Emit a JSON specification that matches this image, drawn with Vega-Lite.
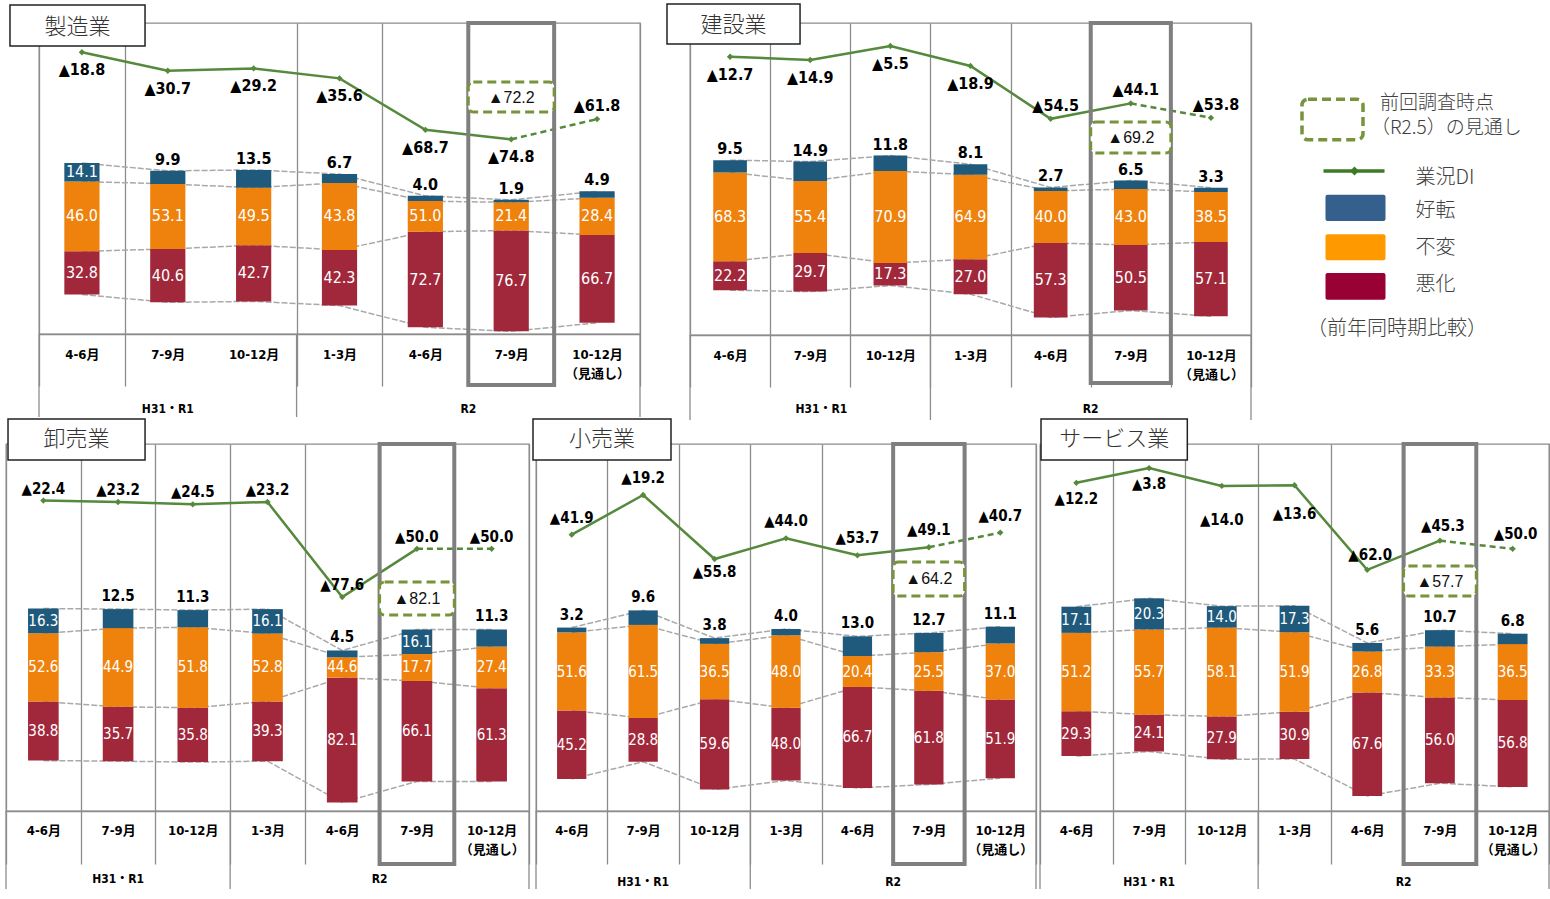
{
"$schema": "https://vega.github.io/schema/vega-lite/v6.json",
"background": "white",
"padding": {"left": 4, "top": 2, "right": 0, "bottom": 0},
"config": {
  "view": {"stroke": "#8c8c8c", "strokeWidth": 1.3},
  "axisQuantitative": {"disable": true}
},
"datasets": {"d": [
{"panel":"製造業","period":"p1","good":14.1,"same":53.1,"bad":32.8,"same_text":"46.0","di":-18.8},
{"panel":"製造業","period":"p2","good":9.9,"same":49.5,"bad":40.6,"same_text":"53.1","di":-30.7},
{"panel":"製造業","period":"p3","good":13.5,"same":43.8,"bad":42.7,"same_text":"49.5","di":-29.2},
{"panel":"製造業","period":"p4","good":6.7,"same":51.0,"bad":42.3,"same_text":"43.8","di":-35.6},
{"panel":"製造業","period":"p5","good":4.0,"same":23.3,"bad":72.7,"same_text":"51.0","di":-68.7},
{"panel":"製造業","period":"p6","good":1.9,"same":21.4,"bad":76.7,"di":-74.8,"prev":-72.2},
{"panel":"製造業","period":"p7","good":4.9,"same":28.4,"bad":66.7,"di":-61.8},
{"panel":"建設業","period":"p1","good":9.5,"same":68.3,"bad":22.2,"di":-12.7},
{"panel":"建設業","period":"p2","good":14.9,"same":55.4,"bad":29.7,"di":-14.9},
{"panel":"建設業","period":"p3","good":11.8,"same":70.9,"bad":17.3,"di":-5.5},
{"panel":"建設業","period":"p4","good":8.1,"same":64.9,"bad":27.0,"di":-18.9},
{"panel":"建設業","period":"p5","good":2.7,"same":40.0,"bad":57.3,"di":-54.5},
{"panel":"建設業","period":"p6","good":6.5,"same":43.0,"bad":50.5,"di":-44.1,"prev":-69.2},
{"panel":"建設業","period":"p7","good":3.3,"same":38.5,"bad":57.1,"di":-53.8},
{"panel":"卸売業","period":"p1","good":16.3,"same":44.9,"bad":38.8,"same_text":"52.6","di":-22.4},
{"panel":"卸売業","period":"p2","good":12.5,"same":51.8,"bad":35.7,"same_text":"44.9","di":-23.2},
{"panel":"卸売業","period":"p3","good":11.3,"same":52.9,"bad":35.8,"same_text":"51.8","di":-24.5},
{"panel":"卸売業","period":"p4","good":16.1,"same":44.6,"bad":39.3,"same_text":"52.8","di":-23.2},
{"panel":"卸売業","period":"p5","good":4.5,"same":13.4,"bad":82.1,"same_text":"44.6","di":-77.6},
{"panel":"卸売業","period":"p6","good":16.1,"same":17.7,"bad":66.1,"di":-50.0,"prev":-82.1},
{"panel":"卸売業","period":"p7","good":11.3,"same":27.4,"bad":61.3,"di":-50.0},
{"panel":"小売業","period":"p1","good":3.2,"same":51.6,"bad":45.2,"di":-41.9},
{"panel":"小売業","period":"p2","good":9.6,"same":61.5,"bad":28.8,"di":-19.2},
{"panel":"小売業","period":"p3","good":3.8,"same":36.5,"bad":59.6,"di":-55.8},
{"panel":"小売業","period":"p4","good":4.0,"same":48.0,"bad":48.0,"di":-44.0},
{"panel":"小売業","period":"p5","good":13.0,"same":20.4,"bad":66.7,"di":-53.7},
{"panel":"小売業","period":"p6","good":12.7,"same":25.5,"bad":61.8,"di":-49.1,"prev":-64.2},
{"panel":"小売業","period":"p7","good":11.1,"same":37.0,"bad":51.9,"di":-40.7},
{"panel":"サービス業","period":"p1","good":17.1,"same":51.2,"bad":29.3,"di":-12.2},
{"panel":"サービス業","period":"p2","good":20.3,"same":55.7,"bad":24.1,"di":-3.8},
{"panel":"サービス業","period":"p3","good":14.0,"same":58.1,"bad":27.9,"di":-14.0},
{"panel":"サービス業","period":"p4","good":17.3,"same":51.9,"bad":30.9,"di":-13.6},
{"panel":"サービス業","period":"p5","good":5.6,"same":26.8,"bad":67.6,"di":-62.0},
{"panel":"サービス業","period":"p6","good":10.7,"same":33.3,"bad":56.0,"di":-45.3,"prev":-57.7},
{"panel":"サービス業","period":"p7","good":6.8,"same":36.5,"bad":56.8,"di":-50.0}
]},
"spacing": -5,
"vconcat": [
{"spacing": 23, "hconcat": [
{"spacing": 0, "hconcat": [
{"width": 2, "height": 10, "view": {"stroke": null}, "data": {"values": [{}]}, "mark": {"type": "text"}, "encoding": {"text": {"value": ""}}},
{
"width": 601, "height": 311,
"data": {"name": "d"},
"transform": [
  {"filter": "datum.panel == '製造業'"},
  {"calculate": "datum.same / 2", "as": "b1"},
  {"calculate": "-datum.same / 2", "as": "b2"},
  {"calculate": "datum.same / 2 + datum.good", "as": "t"},
  {"calculate": "-datum.same / 2 - datum.bad", "as": "bt"},
  {"calculate": "datum.same / 2 + datum.good / 2", "as": "mg"},
  {"calculate": "-datum.same / 2 - datum.bad / 2", "as": "mb"},
  {"calculate": "isValid(datum.same_text) ? datum.same_text : format(datum.same, '.1f')", "as": "same_lbl"},
  {"calculate": "'▲' + format(-datum.di, '.1f')", "as": "di_lbl"}
],
"resolve": {"scale": {"y": "independent"}},
"layer": [
 {"layer": [
  {"transform": [{"fold": ["t", "b1", "b2", "bt"], "as": ["edge", "v"]}],
   "mark": {"type": "line", "stroke": "#a9a9a9", "strokeWidth": 1.5, "strokeDash": [6, 2]},
   "encoding": {
    "x": {"field": "period", "type": "nominal", "scale": {"type": "band", "domain": ["p1","p2","p3","p4","p5","p6","p7"], "paddingInner": 0, "paddingOuter": 0},
      "axis": {"orient": "bottom", "title": null, "domain": true, "domainColor": "#8c8c8c", "domainWidth": 1.3, "grid": true, "gridColor": "#8c8c8c", "gridWidth": 1.3, "tickBand": "extent", "ticks": true, "tickSize": 52, "tickColor": "#8c8c8c", "tickWidth": 1.3, "labelAngle": 0, "labelPadding": -38, "labelBaseline": "top", "labelFont": "Liberation Sans Narrow, Arial Narrow, DejaVu Sans Condensed, Noto Sans CJK JP, sans-serif", "labelFontSize": 13, "labelFontWeight": "bold", "labelColor": "#000000", "labelLineHeight": 19, "labelOverlap": false, "labelFlush": false, "labelBound": false,
        "gridOpacity": {"condition": {"test": "datum.value == 'p2'", "value": 0}, "value": 1},
        "tickOpacity": {"condition": {"test": "datum.value == 'p2'", "value": 0}, "value": 1},
        "labelExpr": "datum.value == 'p7' ? ['10-12月', '（見通し）'] : ['4-6月', '7-9月', '10-12月', '1-3月', '4-6月', '7-9月'][indexof(['p1', 'p2', 'p3', 'p4', 'p5', 'p6'], datum.value)]"}},
    "y": {"field": "v", "type": "quantitative", "scale": {"domain": [-89.4, 147.1], "nice": false, "zero": false}},
    "detail": {"field": "edge", "type": "nominal"}}},
  {"mark": {"type": "bar", "fill": "#a1283b", "width": {"band": 0.41}}, "encoding": {"x": {"field": "period", "type": "nominal"}, "y": {"field": "bt", "type": "quantitative"}, "y2": {"field": "b2"}}},
  {"mark": {"type": "bar", "fill": "#ef820d", "width": {"band": 0.41}}, "encoding": {"x": {"field": "period", "type": "nominal"}, "y": {"field": "b2", "type": "quantitative"}, "y2": {"field": "b1"}}},
  {"mark": {"type": "bar", "fill": "#1f5a7d", "width": {"band": 0.41}}, "encoding": {"x": {"field": "period", "type": "nominal"}, "y": {"field": "b1", "type": "quantitative"}, "y2": {"field": "t"}}},
  {"mark": {"type": "text", "font": "Liberation Sans Narrow, Arial Narrow, DejaVu Sans Condensed, sans-serif", "fontSize": 16, "color": "#ffffff"}, "encoding": {"x": {"field": "period", "type": "nominal"}, "y": {"field": "mb", "type": "quantitative"}, "text": {"field": "bad", "type": "quantitative", "format": ".1f"}}},
  {"mark": {"type": "text", "font": "Liberation Sans Narrow, Arial Narrow, DejaVu Sans Condensed, sans-serif", "fontSize": 16, "color": "#ffffff"}, "encoding": {"x": {"field": "period", "type": "nominal"}, "y": {"datum": 0}, "text": {"field": "same_lbl"}}},
  {"transform": [{"filter": "datum.good >= 14"}], "mark": {"type": "text", "font": "Liberation Sans Narrow, Arial Narrow, DejaVu Sans Condensed, sans-serif", "fontSize": 16, "color": "#ffffff"}, "encoding": {"x": {"field": "period", "type": "nominal"}, "y": {"field": "mg", "type": "quantitative"}, "text": {"field": "good", "type": "quantitative", "format": ".1f"}}},
  {"transform": [{"filter": "datum.good < 14"}], "mark": {"type": "text", "font": "Liberation Sans Narrow, Arial Narrow, DejaVu Sans Condensed, sans-serif", "fontSize": 16, "fontWeight": "bold", "color": "#000000", "baseline": "bottom", "dy": -3}, "encoding": {"x": {"field": "period", "type": "nominal"}, "y": {"field": "t", "type": "quantitative"}, "text": {"field": "good", "type": "quantitative", "format": ".1f"}}}
 ]},
 {"layer": [
  {"transform": [{"filter": "datum.period != 'p7'"}], "mark": {"type": "line", "stroke": "#55893b", "strokeWidth": 2.5}, "encoding": {"x": {"field": "period", "type": "nominal"}, "y": {"field": "di", "type": "quantitative", "scale": {"domain": [-200, 0], "nice": false, "zero": false}}}},
  {"transform": [{"filter": "datum.period == 'p6' || datum.period == 'p7'"}], "mark": {"type": "line", "stroke": "#55893b", "strokeWidth": 2.5, "strokeDash": [6, 4]}, "encoding": {"x": {"field": "period", "type": "nominal"}, "y": {"field": "di", "type": "quantitative"}}},
  {"mark": {"type": "point", "shape": "diamond", "filled": true, "color": "#55893b", "size": 40, "opacity": 1}, "encoding": {"x": {"field": "period", "type": "nominal"}, "y": {"field": "di", "type": "quantitative"}}},
  {"transform": [{"filter": "datum.period != 'p7'"}], "mark": {"type": "text", "font": "Liberation Sans Narrow, Arial Narrow, DejaVu Sans Condensed, sans-serif", "fontSize": 16, "fontWeight": "bold", "color": "#000000", "baseline": "top", "dy": 10}, "encoding": {"x": {"field": "period", "type": "nominal"}, "y": {"field": "di", "type": "quantitative"}, "text": {"field": "di_lbl"}}},
  {"transform": [{"filter": "datum.period == 'p7'"}], "mark": {"type": "text", "font": "Liberation Sans Narrow, Arial Narrow, DejaVu Sans Condensed, sans-serif", "fontSize": 16, "fontWeight": "bold", "color": "#000000", "baseline": "bottom", "dy": -5}, "encoding": {"x": {"field": "period", "type": "nominal"}, "y": {"field": "di", "type": "quantitative"}, "text": {"field": "di_lbl"}}},
  {"transform": [{"filter": "datum.period == 'p6'"}], "mark": {"type": "rect", "fill": "transparent", "stroke": "#7f7f7f", "strokeWidth": 4}, "encoding": {"x": {"field": "period", "type": "nominal"}, "y": {"datum": 0}, "y2": {"datum": -232.8}}},
  {"transform": [{"filter": "datum.period == 'p6'"}], "mark": {"type": "rect", "fill": "#ffffff", "stroke": "#77933c", "strokeWidth": 3, "strokeDash": [9, 5], "cornerRadius": 5}, "encoding": {"x": {"field": "period", "type": "nominal"}, "y": {"datum": -38}, "y2": {"datum": -57.2}}},
  {"transform": [{"filter": "datum.period == 'p6'"}, {"calculate": "'▲' + format(-datum.prev, '.1f')", "as": "prev_lbl"}], "mark": {"type": "text", "font": "Liberation Sans, Noto Sans CJK JP, sans-serif", "fontSize": 16, "color": "#111111"}, "encoding": {"x": {"field": "period", "type": "nominal"}, "y": {"datum": -48.2}, "text": {"field": "prev_lbl"}}},
  {"transform": [{"filter": "datum.period == 'p1' || datum.period == 'p4'"}], "mark": {"type": "rule", "stroke": "#8c8c8c", "strokeWidth": 1.3}, "encoding": {"x": {"field": "period", "type": "nominal", "bandPosition": 0}, "y": {"datum": -200}, "y2": {"datum": -253.4}}},
  {"transform": [{"filter": "datum.period == 'p7'"}], "mark": {"type": "rule", "stroke": "#8c8c8c", "strokeWidth": 1.3}, "encoding": {"x": {"field": "period", "type": "nominal", "bandPosition": 1}, "y": {"datum": -200}, "y2": {"datum": -253.4}}},
  {"transform": [{"filter": "datum.period == 'p1'"}], "mark": {"type": "text", "font": "Liberation Sans Narrow, Arial Narrow, DejaVu Sans Condensed, Noto Sans CJK JP, sans-serif", "fontSize": 12, "fontWeight": "bold", "color": "#000000"}, "encoding": {"x": {"datum": "p2", "bandPosition": 0.5}, "y": {"datum": -248.2}, "text": {"value": "H31・R1"}}},
  {"transform": [{"filter": "datum.period == 'p1'"}], "mark": {"type": "text", "font": "Liberation Sans Narrow, Arial Narrow, DejaVu Sans Condensed, Noto Sans CJK JP, sans-serif", "fontSize": 12, "fontWeight": "bold", "color": "#000000"}, "encoding": {"x": {"datum": "p6", "bandPosition": 0}, "y": {"datum": -248.2}, "text": {"value": "R2"}}},
  {"transform": [{"filter": "datum.period == 'p1'"}], "mark": {"type": "rect", "fill": "#ffffff", "stroke": "#222222", "strokeWidth": 1.5}, "encoding": {"x": {"datum": "p1", "bandPosition": -0.338}, "x2": {"datum": "p2", "bandPosition": 0.235}, "y": {"datum": 11.6}, "y2": {"datum": -14.8}}},
  {"transform": [{"filter": "datum.period == 'p1'"}], "mark": {"type": "text", "font": "Noto Sans CJK JP", "fontSize": 22, "fontWeight": 300, "color": "#333333"}, "encoding": {"x": {"datum": "p1", "bandPosition": 0.448}, "y": {"datum": -2.6}, "text": {"value": "製造業"}}}
 ]}
]
}
]},
{
"width": 561, "height": 312,
"data": {"name": "d"},
"transform": [
  {"filter": "datum.panel == '建設業'"},
  {"calculate": "datum.same / 2", "as": "b1"},
  {"calculate": "-datum.same / 2", "as": "b2"},
  {"calculate": "datum.same / 2 + datum.good", "as": "t"},
  {"calculate": "-datum.same / 2 - datum.bad", "as": "bt"},
  {"calculate": "datum.same / 2 + datum.good / 2", "as": "mg"},
  {"calculate": "-datum.same / 2 - datum.bad / 2", "as": "mb"},
  {"calculate": "isValid(datum.same_text) ? datum.same_text : format(datum.same, '.1f')", "as": "same_lbl"},
  {"calculate": "'▲' + format(-datum.di, '.1f')", "as": "di_lbl"}
],
"resolve": {"scale": {"y": "independent"}},
"layer": [
 {"layer": [
  {"transform": [{"fold": ["t", "b1", "b2", "bt"], "as": ["edge", "v"]}],
   "mark": {"type": "line", "stroke": "#a9a9a9", "strokeWidth": 1.5, "strokeDash": [6, 2]},
   "encoding": {
    "x": {"field": "period", "type": "nominal", "scale": {"type": "band", "domain": ["p1","p2","p3","p4","p5","p6","p7"], "paddingInner": 0, "paddingOuter": 0},
      "axis": {"orient": "bottom", "title": null, "domain": true, "domainColor": "#8c8c8c", "domainWidth": 1.3, "grid": true, "gridColor": "#8c8c8c", "gridWidth": 1.3, "tickBand": "extent", "ticks": true, "tickSize": 52, "tickColor": "#8c8c8c", "tickWidth": 1.3, "labelAngle": 0, "labelPadding": -38, "labelBaseline": "top", "labelFont": "Liberation Sans Narrow, Arial Narrow, DejaVu Sans Condensed, Noto Sans CJK JP, sans-serif", "labelFontSize": 13, "labelFontWeight": "bold", "labelColor": "#000000", "labelLineHeight": 19, "labelOverlap": false, "labelFlush": false, "labelBound": false,
        "labelExpr": "datum.value == 'p7' ? ['10-12月', '（見通し）'] : ['4-6月', '7-9月', '10-12月', '1-3月', '4-6月', '7-9月'][indexof(['p1', 'p2', 'p3', 'p4', 'p5', 'p6'], datum.value)]"}},
    "y": {"field": "v", "type": "quantitative", "scale": {"domain": [-90.8, 149.2], "nice": false, "zero": false}},
    "detail": {"field": "edge", "type": "nominal"}}},
  {"mark": {"type": "bar", "fill": "#a1283b", "width": {"band": 0.42}}, "encoding": {"x": {"field": "period", "type": "nominal"}, "y": {"field": "bt", "type": "quantitative"}, "y2": {"field": "b2"}}},
  {"mark": {"type": "bar", "fill": "#ef820d", "width": {"band": 0.42}}, "encoding": {"x": {"field": "period", "type": "nominal"}, "y": {"field": "b2", "type": "quantitative"}, "y2": {"field": "b1"}}},
  {"mark": {"type": "bar", "fill": "#1f5a7d", "width": {"band": 0.42}}, "encoding": {"x": {"field": "period", "type": "nominal"}, "y": {"field": "b1", "type": "quantitative"}, "y2": {"field": "t"}}},
  {"mark": {"type": "text", "font": "Liberation Sans Narrow, Arial Narrow, DejaVu Sans Condensed, sans-serif", "fontSize": 16, "color": "#ffffff"}, "encoding": {"x": {"field": "period", "type": "nominal"}, "y": {"field": "mb", "type": "quantitative"}, "text": {"field": "bad", "type": "quantitative", "format": ".1f"}}},
  {"mark": {"type": "text", "font": "Liberation Sans Narrow, Arial Narrow, DejaVu Sans Condensed, sans-serif", "fontSize": 16, "color": "#ffffff"}, "encoding": {"x": {"field": "period", "type": "nominal"}, "y": {"datum": 0}, "text": {"field": "same_lbl"}}},
  {"transform": [{"filter": "datum.good >= 15"}], "mark": {"type": "text", "font": "Liberation Sans Narrow, Arial Narrow, DejaVu Sans Condensed, sans-serif", "fontSize": 16, "color": "#ffffff"}, "encoding": {"x": {"field": "period", "type": "nominal"}, "y": {"field": "mg", "type": "quantitative"}, "text": {"field": "good", "type": "quantitative", "format": ".1f"}}},
  {"transform": [{"filter": "datum.good < 15"}], "mark": {"type": "text", "font": "Liberation Sans Narrow, Arial Narrow, DejaVu Sans Condensed, sans-serif", "fontSize": 16, "fontWeight": "bold", "color": "#000000", "baseline": "bottom", "dy": -3}, "encoding": {"x": {"field": "period", "type": "nominal"}, "y": {"field": "t", "type": "quantitative"}, "text": {"field": "good", "type": "quantitative", "format": ".1f"}}}
 ]},
 {"layer": [
  {"transform": [{"filter": "datum.period != 'p7'"}], "mark": {"type": "line", "stroke": "#55893b", "strokeWidth": 2.5}, "encoding": {"x": {"field": "period", "type": "nominal"}, "y": {"field": "di", "type": "quantitative", "scale": {"domain": [-200, 10], "nice": false, "zero": false}}}},
  {"transform": [{"filter": "datum.period == 'p6' || datum.period == 'p7'"}], "mark": {"type": "line", "stroke": "#55893b", "strokeWidth": 2.5, "strokeDash": [6, 4]}, "encoding": {"x": {"field": "period", "type": "nominal"}, "y": {"field": "di", "type": "quantitative"}}},
  {"mark": {"type": "point", "shape": "diamond", "filled": true, "color": "#55893b", "size": 40, "opacity": 1}, "encoding": {"x": {"field": "period", "type": "nominal"}, "y": {"field": "di", "type": "quantitative"}}},
  {"transform": [{"filter": "indexof(['p1','p2','p3','p4'], datum.period) >= 0"}], "mark": {"type": "text", "font": "Liberation Sans Narrow, Arial Narrow, DejaVu Sans Condensed, sans-serif", "fontSize": 16, "fontWeight": "bold", "color": "#000000", "baseline": "top", "dy": 10}, "encoding": {"x": {"field": "period", "type": "nominal"}, "y": {"field": "di", "type": "quantitative"}, "text": {"field": "di_lbl"}}},
  {"transform": [{"filter": "indexof(['p1','p2','p3','p4'], datum.period) < 0"}], "mark": {"type": "text", "font": "Liberation Sans Narrow, Arial Narrow, DejaVu Sans Condensed, sans-serif", "fontSize": 16, "fontWeight": "bold", "color": "#000000", "baseline": "bottom", "dy": -5, "dx": 5}, "encoding": {"x": {"field": "period", "type": "nominal"}, "y": {"field": "di", "type": "quantitative"}, "text": {"field": "di_lbl"}}},
  {"transform": [{"filter": "datum.period == 'p6'"}], "mark": {"type": "rect", "fill": "transparent", "stroke": "#7f7f7f", "strokeWidth": 4}, "encoding": {"x": {"field": "period", "type": "nominal"}, "y": {"datum": 10}, "y2": {"datum": -232.3}}},
  {"transform": [{"filter": "datum.period == 'p6'"}], "mark": {"type": "rect", "fill": "#ffffff", "stroke": "#77933c", "strokeWidth": 3, "strokeDash": [9, 5], "cornerRadius": 5}, "encoding": {"x": {"field": "period", "type": "nominal"}, "y": {"datum": -56.6}, "y2": {"datum": -77.5}}},
  {"transform": [{"filter": "datum.period == 'p6'"}, {"calculate": "'▲' + format(-datum.prev, '.1f')", "as": "prev_lbl"}], "mark": {"type": "text", "font": "Liberation Sans, Noto Sans CJK JP, sans-serif", "fontSize": 16, "color": "#111111"}, "encoding": {"x": {"field": "period", "type": "nominal"}, "y": {"datum": -67.4}, "text": {"field": "prev_lbl"}}},
  {"transform": [{"filter": "datum.period == 'p1' || datum.period == 'p4'"}], "mark": {"type": "rule", "stroke": "#8c8c8c", "strokeWidth": 1.3}, "encoding": {"x": {"field": "period", "type": "nominal", "bandPosition": 0}, "y": {"datum": -200}, "y2": {"datum": -257.2}}},
  {"transform": [{"filter": "datum.period == 'p7'"}], "mark": {"type": "rule", "stroke": "#8c8c8c", "strokeWidth": 1.3}, "encoding": {"x": {"field": "period", "type": "nominal", "bandPosition": 1}, "y": {"datum": -200}, "y2": {"datum": -257.2}}},
  {"transform": [{"filter": "datum.period == 'p1'"}], "mark": {"type": "text", "font": "Liberation Sans Narrow, Arial Narrow, DejaVu Sans Condensed, Noto Sans CJK JP, sans-serif", "fontSize": 12, "fontWeight": "bold", "color": "#000000"}, "encoding": {"x": {"datum": "p2", "bandPosition": 0.64}, "y": {"datum": -249.8}, "text": {"value": "H31・R1"}}},
  {"transform": [{"filter": "datum.period == 'p1'"}], "mark": {"type": "text", "font": "Liberation Sans Narrow, Arial Narrow, DejaVu Sans Condensed, Noto Sans CJK JP, sans-serif", "fontSize": 12, "fontWeight": "bold", "color": "#000000"}, "encoding": {"x": {"datum": "p6", "bandPosition": 0}, "y": {"datum": -249.8}, "text": {"value": "R2"}}},
  {"transform": [{"filter": "datum.period == 'p1'"}], "mark": {"type": "rect", "fill": "#ffffff", "stroke": "#222222", "strokeWidth": 1.5}, "encoding": {"x": {"datum": "p1", "bandPosition": -0.287}, "x2": {"datum": "p2", "bandPosition": 0.373}, "y": {"datum": 22.8}, "y2": {"datum": -4.1}}},
  {"transform": [{"filter": "datum.period == 'p1'"}], "mark": {"type": "text", "font": "Noto Sans CJK JP", "fontSize": 22, "fontWeight": 300, "color": "#333333"}, "encoding": {"x": {"datum": "p1", "bandPosition": 0.543}, "y": {"datum": 8.65}, "text": {"value": "建設業"}}}
 ]}
]
},
{
"width": 250, "height": 330,
"view": {"stroke": null},
"data": {"values": [{}]},
"layer": [
  {"mark": {"type": "rect", "fill": "transparent", "stroke": "#77933c", "strokeWidth": 3.5, "strokeDash": [9, 5], "cornerRadius": 6}, "encoding": {"x": {"datum": 26, "scale": {"domain": [0, 250], "nice": false, "zero": false}}, "x2": {"datum": 87}, "y": {"datum": 76.3, "scale": {"domain": [0, 330], "reverse": true, "nice": false, "zero": false}}, "y2": {"datum": 116.8}}},
  {"mark": {"type": "text", "font": "Noto Sans CJK JP", "fontSize": 19, "fontWeight": 300, "color": "#404040", "align": "left", "baseline": "middle"}, "encoding": {"x": {"datum": 104}, "y": {"datum": 79.5}, "text": {"value": "前回調査時点"}}},
  {"mark": {"type": "text", "font": "Noto Sans CJK JP", "fontSize": 19, "fontWeight": 300, "color": "#404040", "align": "left", "baseline": "middle"}, "encoding": {"x": {"datum": 95}, "y": {"datum": 105}, "text": {"value": "（R2.5）の見通し"}}},
  {"mark": {"type": "rule", "stroke": "#3d7a24", "strokeWidth": 3.5}, "encoding": {"x": {"datum": 47.5}, "x2": {"datum": 108.5}, "y": {"datum": 148}}},
  {"mark": {"type": "point", "shape": "diamond", "filled": true, "color": "#3d7a24", "size": 80, "opacity": 1}, "encoding": {"x": {"datum": 78.5}, "y": {"datum": 148}}},
  {"mark": {"type": "text", "font": "Noto Sans CJK JP", "fontSize": 20, "fontWeight": 300, "color": "#404040", "align": "left", "baseline": "middle"}, "encoding": {"x": {"datum": 139.5}, "y": {"datum": 155}, "text": {"value": "業況DI"}}},
  {"mark": {"type": "rect", "fill": "#355f8d", "cornerRadius": 2}, "encoding": {"x": {"datum": 49.5}, "x2": {"datum": 109.5}, "y": {"datum": 171.7}, "y2": {"datum": 198}}},
  {"mark": {"type": "rect", "fill": "#ff9900", "cornerRadius": 2}, "encoding": {"x": {"datum": 49.5}, "x2": {"datum": 109.5}, "y": {"datum": 211.3}, "y2": {"datum": 237.3}}},
  {"mark": {"type": "rect", "fill": "#990033", "cornerRadius": 2}, "encoding": {"x": {"datum": 49.5}, "x2": {"datum": 109.5}, "y": {"datum": 250}, "y2": {"datum": 276.7}}},
  {"mark": {"type": "text", "font": "Noto Sans CJK JP", "fontSize": 20, "fontWeight": 300, "color": "#404040", "align": "left", "baseline": "middle"}, "encoding": {"x": {"datum": 139.5}, "y": {"datum": 188.3}, "text": {"value": "好転"}}},
  {"mark": {"type": "text", "font": "Noto Sans CJK JP", "fontSize": 20, "fontWeight": 300, "color": "#404040", "align": "left", "baseline": "middle"}, "encoding": {"x": {"datum": 139.5}, "y": {"datum": 225}, "text": {"value": "不変"}}},
  {"mark": {"type": "text", "font": "Noto Sans CJK JP", "fontSize": 20, "fontWeight": 300, "color": "#404040", "align": "left", "baseline": "middle"}, "encoding": {"x": {"datum": 139.5}, "y": {"datum": 262.3}, "text": {"value": "悪化"}}},
  {"mark": {"type": "text", "font": "Noto Sans CJK JP", "fontSize": 20, "fontWeight": 300, "color": "#404040", "align": "left", "baseline": "middle"}, "encoding": {"x": {"datum": 31}, "y": {"datum": 305.7}, "text": {"value": "（前年同時期比較）"}}}
]
}
]},
{"spacing": 0, "hconcat": [
{
"width": 523, "height": 367,
"data": {"name": "d"},
"transform": [
  {"filter": "datum.panel == '卸売業'"},
  {"calculate": "datum.same / 2", "as": "b1"},
  {"calculate": "-datum.same / 2", "as": "b2"},
  {"calculate": "datum.same / 2 + datum.good", "as": "t"},
  {"calculate": "-datum.same / 2 - datum.bad", "as": "bt"},
  {"calculate": "datum.same / 2 + datum.good / 2", "as": "mg"},
  {"calculate": "-datum.same / 2 - datum.bad / 2", "as": "mb"},
  {"calculate": "isValid(datum.same_text) ? datum.same_text : format(datum.same, '.1f')", "as": "same_lbl"},
  {"calculate": "'▲' + format(-datum.di, '.1f')", "as": "di_lbl"}
],
"resolve": {"scale": {"y": "independent"}},
"layer": [
 {"layer": [
  {"transform": [{"fold": ["t", "b1", "b2", "bt"], "as": ["edge", "v"]}],
   "mark": {"type": "line", "stroke": "#a9a9a9", "strokeWidth": 1.5, "strokeDash": [6, 2]},
   "encoding": {
    "x": {"field": "period", "type": "nominal", "scale": {"type": "band", "domain": ["p1","p2","p3","p4","p5","p6","p7"], "paddingInner": 0, "paddingOuter": 0},
      "axis": {"orient": "bottom", "title": null, "domain": true, "domainColor": "#8c8c8c", "domainWidth": 1.3, "grid": true, "gridColor": "#8c8c8c", "gridWidth": 1.3, "tickBand": "extent", "ticks": true, "tickSize": 53, "tickColor": "#8c8c8c", "tickWidth": 1.3, "labelAngle": 0, "labelPadding": -40, "labelBaseline": "top", "labelFont": "Liberation Sans Narrow, Arial Narrow, DejaVu Sans Condensed, Noto Sans CJK JP, sans-serif", "labelFontSize": 13, "labelFontWeight": "bold", "labelColor": "#000000", "labelLineHeight": 19, "labelOverlap": false, "labelFlush": false, "labelBound": false,
        "labelExpr": "datum.value == 'p7' ? ['10-12月', '（見通し）'] : ['4-6月', '7-9月', '10-12月', '1-3月', '4-6月', '7-9月'][indexof(['p1', 'p2', 'p3', 'p4', 'p5', 'p6'], datum.value)]"}},
    "y": {"field": "v", "type": "quantitative", "scale": {"domain": [-94.4, 147.0], "nice": false, "zero": false}},
    "detail": {"field": "edge", "type": "nominal"}}},
  {"mark": {"type": "bar", "fill": "#a1283b", "width": {"band": 0.41}}, "encoding": {"x": {"field": "period", "type": "nominal"}, "y": {"field": "bt", "type": "quantitative"}, "y2": {"field": "b2"}}},
  {"mark": {"type": "bar", "fill": "#ef820d", "width": {"band": 0.41}}, "encoding": {"x": {"field": "period", "type": "nominal"}, "y": {"field": "b2", "type": "quantitative"}, "y2": {"field": "b1"}}},
  {"mark": {"type": "bar", "fill": "#1f5a7d", "width": {"band": 0.41}}, "encoding": {"x": {"field": "period", "type": "nominal"}, "y": {"field": "b1", "type": "quantitative"}, "y2": {"field": "t"}}},
  {"mark": {"type": "text", "font": "Liberation Sans Narrow, Arial Narrow, DejaVu Sans Condensed, sans-serif", "fontSize": 15, "color": "#ffffff"}, "encoding": {"x": {"field": "period", "type": "nominal"}, "y": {"field": "mb", "type": "quantitative"}, "text": {"field": "bad", "type": "quantitative", "format": ".1f"}}},
  {"mark": {"type": "text", "font": "Liberation Sans Narrow, Arial Narrow, DejaVu Sans Condensed, sans-serif", "fontSize": 15, "color": "#ffffff"}, "encoding": {"x": {"field": "period", "type": "nominal"}, "y": {"datum": 0}, "text": {"field": "same_lbl"}}},
  {"transform": [{"filter": "datum.good >= 14"}], "mark": {"type": "text", "font": "Liberation Sans Narrow, Arial Narrow, DejaVu Sans Condensed, sans-serif", "fontSize": 15, "color": "#ffffff"}, "encoding": {"x": {"field": "period", "type": "nominal"}, "y": {"field": "mg", "type": "quantitative"}, "text": {"field": "good", "type": "quantitative", "format": ".1f"}}},
  {"transform": [{"filter": "datum.good < 14"}], "mark": {"type": "text", "font": "Liberation Sans Narrow, Arial Narrow, DejaVu Sans Condensed, sans-serif", "fontSize": 15, "fontWeight": "bold", "color": "#000000", "baseline": "bottom", "dy": -5}, "encoding": {"x": {"field": "period", "type": "nominal"}, "y": {"field": "t", "type": "quantitative"}, "text": {"field": "good", "type": "quantitative", "format": ".1f"}}}
 ]},
 {"layer": [
  {"transform": [{"filter": "datum.period != 'p7'"}], "mark": {"type": "line", "stroke": "#55893b", "strokeWidth": 2.5}, "encoding": {"x": {"field": "period", "type": "nominal"}, "y": {"field": "di", "type": "quantitative", "scale": {"domain": [-200, 10], "nice": false, "zero": false}}}},
  {"transform": [{"filter": "datum.period == 'p6' || datum.period == 'p7'"}], "mark": {"type": "line", "stroke": "#55893b", "strokeWidth": 2.5, "strokeDash": [6, 4]}, "encoding": {"x": {"field": "period", "type": "nominal"}, "y": {"field": "di", "type": "quantitative"}}},
  {"mark": {"type": "point", "shape": "diamond", "filled": true, "color": "#55893b", "size": 40, "opacity": 1}, "encoding": {"x": {"field": "period", "type": "nominal"}, "y": {"field": "di", "type": "quantitative"}}},
  {"mark": {"type": "text", "font": "Liberation Sans Narrow, Arial Narrow, DejaVu Sans Condensed, sans-serif", "fontSize": 15, "fontWeight": "bold", "color": "#000000", "baseline": "bottom", "dy": -4}, "encoding": {"x": {"field": "period", "type": "nominal"}, "y": {"field": "di", "type": "quantitative"}, "text": {"field": "di_lbl"}}},
  {"transform": [{"filter": "datum.period == 'p6'"}], "mark": {"type": "rect", "fill": "transparent", "stroke": "#7f7f7f", "strokeWidth": 4}, "encoding": {"x": {"field": "period", "type": "nominal"}, "y": {"datum": 10}, "y2": {"datum": -230.3}}},
  {"transform": [{"filter": "datum.period == 'p6'"}], "mark": {"type": "rect", "fill": "#ffffff", "stroke": "#77933c", "strokeWidth": 3, "strokeDash": [9, 5], "cornerRadius": 5}, "encoding": {"x": {"field": "period", "type": "nominal"}, "y": {"datum": -69.0}, "y2": {"datum": -87.8}}},
  {"transform": [{"filter": "datum.period == 'p6'"}, {"calculate": "'▲' + format(-datum.prev, '.1f')", "as": "prev_lbl"}], "mark": {"type": "text", "font": "Liberation Sans, Noto Sans CJK JP, sans-serif", "fontSize": 16, "color": "#111111"}, "encoding": {"x": {"field": "period", "type": "nominal"}, "y": {"datum": -78.7}, "text": {"field": "prev_lbl"}}},
  {"transform": [{"filter": "datum.period == 'p1' || datum.period == 'p4'"}], "mark": {"type": "rule", "stroke": "#8c8c8c", "strokeWidth": 1.3}, "encoding": {"x": {"field": "period", "type": "nominal", "bandPosition": 0}, "y": {"datum": -200}, "y2": {"datum": -244.6}}},
  {"transform": [{"filter": "datum.period == 'p7'"}], "mark": {"type": "rule", "stroke": "#8c8c8c", "strokeWidth": 1.3}, "encoding": {"x": {"field": "period", "type": "nominal", "bandPosition": 1}, "y": {"datum": -200}, "y2": {"datum": -244.6}}},
  {"transform": [{"filter": "datum.period == 'p1'"}], "mark": {"type": "text", "font": "Liberation Sans Narrow, Arial Narrow, DejaVu Sans Condensed, Noto Sans CJK JP, sans-serif", "fontSize": 12, "fontWeight": "bold", "color": "#000000"}, "encoding": {"x": {"datum": "p2", "bandPosition": 0.5}, "y": {"datum": -238.9}, "text": {"value": "H31・R1"}}},
  {"transform": [{"filter": "datum.period == 'p1'"}], "mark": {"type": "text", "font": "Liberation Sans Narrow, Arial Narrow, DejaVu Sans Condensed, Noto Sans CJK JP, sans-serif", "fontSize": 12, "fontWeight": "bold", "color": "#000000"}, "encoding": {"x": {"datum": "p6", "bandPosition": 0}, "y": {"datum": -238.9}, "text": {"value": "R2"}}},
  {"transform": [{"filter": "datum.period == 'p1'"}], "mark": {"type": "rect", "fill": "#ffffff", "stroke": "#222222", "strokeWidth": 1.5}, "encoding": {"x": {"datum": "p1", "bandPosition": 0.027}, "x2": {"datum": "p2", "bandPosition": 0.861}, "y": {"datum": 24.3}, "y2": {"datum": 0.84}}},
  {"transform": [{"filter": "datum.period == 'p1'"}], "mark": {"type": "text", "font": "Noto Sans CJK JP", "fontSize": 22, "fontWeight": 300, "color": "#333333"}, "encoding": {"x": {"datum": "p1", "bandPosition": 0.944}, "y": {"datum": 12.9}, "text": {"value": "卸売業"}}}
 ]}
]
},
{
"width": 500, "height": 367,
"data": {"name": "d"},
"transform": [
  {"filter": "datum.panel == '小売業'"},
  {"calculate": "datum.same / 2", "as": "b1"},
  {"calculate": "-datum.same / 2", "as": "b2"},
  {"calculate": "datum.same / 2 + datum.good", "as": "t"},
  {"calculate": "-datum.same / 2 - datum.bad", "as": "bt"},
  {"calculate": "datum.same / 2 + datum.good / 2", "as": "mg"},
  {"calculate": "-datum.same / 2 - datum.bad / 2", "as": "mb"},
  {"calculate": "isValid(datum.same_text) ? datum.same_text : format(datum.same, '.1f')", "as": "same_lbl"},
  {"calculate": "'▲' + format(-datum.di, '.1f')", "as": "di_lbl"}
],
"resolve": {"scale": {"y": "independent"}},
"layer": [
 {"layer": [
  {"transform": [{"fold": ["t", "b1", "b2", "bt"], "as": ["edge", "v"]}],
   "mark": {"type": "line", "stroke": "#a9a9a9", "strokeWidth": 1.5, "strokeDash": [6, 2]},
   "encoding": {
    "x": {"field": "period", "type": "nominal", "scale": {"type": "band", "domain": ["p1","p2","p3","p4","p5","p6","p7"], "paddingInner": 0, "paddingOuter": 0},
      "axis": {"orient": "bottom", "title": null, "domain": true, "domainColor": "#8c8c8c", "domainWidth": 1.3, "grid": true, "gridColor": "#8c8c8c", "gridWidth": 1.3, "tickBand": "extent", "ticks": true, "tickSize": 53, "tickColor": "#8c8c8c", "tickWidth": 1.3, "labelAngle": 0, "labelPadding": -40, "labelBaseline": "top", "labelFont": "Liberation Sans Narrow, Arial Narrow, DejaVu Sans Condensed, Noto Sans CJK JP, sans-serif", "labelFontSize": 13, "labelFontWeight": "bold", "labelColor": "#000000", "labelLineHeight": 19, "labelOverlap": false, "labelFlush": false, "labelBound": false,
        "labelExpr": "datum.value == 'p7' ? ['10-12月', '（見通し）'] : ['4-6月', '7-9月', '10-12月', '1-3月', '4-6月', '7-9月'][indexof(['p1', 'p2', 'p3', 'p4', 'p5', 'p6'], datum.value)]"}},
    "y": {"field": "v", "type": "quantitative", "scale": {"domain": [-92.1, 150.2], "nice": false, "zero": false}},
    "detail": {"field": "edge", "type": "nominal"}}},
  {"mark": {"type": "bar", "fill": "#a1283b", "width": {"band": 0.41}}, "encoding": {"x": {"field": "period", "type": "nominal"}, "y": {"field": "bt", "type": "quantitative"}, "y2": {"field": "b2"}}},
  {"mark": {"type": "bar", "fill": "#ef820d", "width": {"band": 0.41}}, "encoding": {"x": {"field": "period", "type": "nominal"}, "y": {"field": "b2", "type": "quantitative"}, "y2": {"field": "b1"}}},
  {"mark": {"type": "bar", "fill": "#1f5a7d", "width": {"band": 0.41}}, "encoding": {"x": {"field": "period", "type": "nominal"}, "y": {"field": "b1", "type": "quantitative"}, "y2": {"field": "t"}}},
  {"mark": {"type": "text", "font": "Liberation Sans Narrow, Arial Narrow, DejaVu Sans Condensed, sans-serif", "fontSize": 15, "color": "#ffffff"}, "encoding": {"x": {"field": "period", "type": "nominal"}, "y": {"field": "mb", "type": "quantitative"}, "text": {"field": "bad", "type": "quantitative", "format": ".1f"}}},
  {"mark": {"type": "text", "font": "Liberation Sans Narrow, Arial Narrow, DejaVu Sans Condensed, sans-serif", "fontSize": 15, "color": "#ffffff"}, "encoding": {"x": {"field": "period", "type": "nominal"}, "y": {"datum": 0}, "text": {"field": "same_lbl"}}},
  {"transform": [{"filter": "datum.good >= 14"}], "mark": {"type": "text", "font": "Liberation Sans Narrow, Arial Narrow, DejaVu Sans Condensed, sans-serif", "fontSize": 15, "color": "#ffffff"}, "encoding": {"x": {"field": "period", "type": "nominal"}, "y": {"field": "mg", "type": "quantitative"}, "text": {"field": "good", "type": "quantitative", "format": ".1f"}}},
  {"transform": [{"filter": "datum.good < 14"}], "mark": {"type": "text", "font": "Liberation Sans Narrow, Arial Narrow, DejaVu Sans Condensed, sans-serif", "fontSize": 15, "fontWeight": "bold", "color": "#000000", "baseline": "bottom", "dy": -5}, "encoding": {"x": {"field": "period", "type": "nominal"}, "y": {"field": "t", "type": "quantitative"}, "text": {"field": "good", "type": "quantitative", "format": ".1f"}}}
 ]},
 {"layer": [
  {"transform": [{"filter": "datum.period != 'p7'"}], "mark": {"type": "line", "stroke": "#55893b", "strokeWidth": 2.5}, "encoding": {"x": {"field": "period", "type": "nominal"}, "y": {"field": "di", "type": "quantitative", "scale": {"domain": [-200, 10], "nice": false, "zero": false}}}},
  {"transform": [{"filter": "datum.period == 'p6' || datum.period == 'p7'"}], "mark": {"type": "line", "stroke": "#55893b", "strokeWidth": 2.5, "strokeDash": [6, 4]}, "encoding": {"x": {"field": "period", "type": "nominal"}, "y": {"field": "di", "type": "quantitative"}}},
  {"mark": {"type": "point", "shape": "diamond", "filled": true, "color": "#55893b", "size": 40, "opacity": 1}, "encoding": {"x": {"field": "period", "type": "nominal"}, "y": {"field": "di", "type": "quantitative"}}},
  {"transform": [{"filter": "datum.period == 'p3'"}], "mark": {"type": "text", "font": "Liberation Sans Narrow, Arial Narrow, DejaVu Sans Condensed, sans-serif", "fontSize": 15, "fontWeight": "bold", "color": "#000000", "baseline": "top", "dy": 6}, "encoding": {"x": {"field": "period", "type": "nominal"}, "y": {"field": "di", "type": "quantitative"}, "text": {"field": "di_lbl"}}},
  {"transform": [{"filter": "datum.period != 'p3'"}], "mark": {"type": "text", "font": "Liberation Sans Narrow, Arial Narrow, DejaVu Sans Condensed, sans-serif", "fontSize": 15, "fontWeight": "bold", "color": "#000000", "baseline": "bottom", "dy": -9}, "encoding": {"x": {"field": "period", "type": "nominal"}, "y": {"field": "di", "type": "quantitative"}, "text": {"field": "di_lbl"}}},
  {"transform": [{"filter": "datum.period == 'p6'"}], "mark": {"type": "rect", "fill": "transparent", "stroke": "#7f7f7f", "strokeWidth": 4}, "encoding": {"x": {"field": "period", "type": "nominal"}, "y": {"datum": 10}, "y2": {"datum": -230.3}}},
  {"transform": [{"filter": "datum.period == 'p6'"}], "mark": {"type": "rect", "fill": "#ffffff", "stroke": "#77933c", "strokeWidth": 3, "strokeDash": [9, 5], "cornerRadius": 5}, "encoding": {"x": {"field": "period", "type": "nominal"}, "y": {"datum": -57.5}, "y2": {"datum": -77.0}}},
  {"transform": [{"filter": "datum.period == 'p6'"}, {"calculate": "'▲' + format(-datum.prev, '.1f')", "as": "prev_lbl"}], "mark": {"type": "text", "font": "Liberation Sans, Noto Sans CJK JP, sans-serif", "fontSize": 16, "color": "#111111"}, "encoding": {"x": {"field": "period", "type": "nominal"}, "y": {"datum": -67.2}, "text": {"field": "prev_lbl"}}},
  {"transform": [{"filter": "datum.period == 'p1' || datum.period == 'p4'"}], "mark": {"type": "rule", "stroke": "#8c8c8c", "strokeWidth": 1.3}, "encoding": {"x": {"field": "period", "type": "nominal", "bandPosition": 0}, "y": {"datum": -200}, "y2": {"datum": -244.6}}},
  {"transform": [{"filter": "datum.period == 'p7'"}], "mark": {"type": "rule", "stroke": "#8c8c8c", "strokeWidth": 1.3}, "encoding": {"x": {"field": "period", "type": "nominal", "bandPosition": 1}, "y": {"datum": -200}, "y2": {"datum": -244.6}}},
  {"transform": [{"filter": "datum.period == 'p1'"}], "mark": {"type": "text", "font": "Liberation Sans Narrow, Arial Narrow, DejaVu Sans Condensed, Noto Sans CJK JP, sans-serif", "fontSize": 12, "fontWeight": "bold", "color": "#000000"}, "encoding": {"x": {"datum": "p2", "bandPosition": 0.5}, "y": {"datum": -240.5}, "text": {"value": "H31・R1"}}},
  {"transform": [{"filter": "datum.period == 'p1'"}], "mark": {"type": "text", "font": "Liberation Sans Narrow, Arial Narrow, DejaVu Sans Condensed, Noto Sans CJK JP, sans-serif", "fontSize": 12, "fontWeight": "bold", "color": "#000000"}, "encoding": {"x": {"datum": "p6", "bandPosition": 0}, "y": {"datum": -240.5}, "text": {"value": "R2"}}},
  {"transform": [{"filter": "datum.period == 'p1'"}], "mark": {"type": "rect", "fill": "#ffffff", "stroke": "#222222", "strokeWidth": 1.5}, "encoding": {"x": {"datum": "p1", "bandPosition": -0.042}, "x2": {"datum": "p2", "bandPosition": 0.89}, "y": {"datum": 24.3}, "y2": {"datum": 0.84}}},
  {"transform": [{"filter": "datum.period == 'p1'"}], "mark": {"type": "text", "font": "Noto Sans CJK JP", "fontSize": 22, "fontWeight": 300, "color": "#333333"}, "encoding": {"x": {"datum": "p1", "bandPosition": 0.924}, "y": {"datum": 12.9}, "text": {"value": "小売業"}}}
 ]}
]
},
{
"width": 509, "height": 367,
"data": {"name": "d"},
"transform": [
  {"filter": "datum.panel == 'サービス業'"},
  {"calculate": "datum.same / 2", "as": "b1"},
  {"calculate": "-datum.same / 2", "as": "b2"},
  {"calculate": "datum.same / 2 + datum.good", "as": "t"},
  {"calculate": "-datum.same / 2 - datum.bad", "as": "bt"},
  {"calculate": "datum.same / 2 + datum.good / 2", "as": "mg"},
  {"calculate": "-datum.same / 2 - datum.bad / 2", "as": "mb"},
  {"calculate": "isValid(datum.same_text) ? datum.same_text : format(datum.same, '.1f')", "as": "same_lbl"},
  {"calculate": "'▲' + format(-datum.di, '.1f')", "as": "di_lbl"}
],
"resolve": {"scale": {"y": "independent"}},
"layer": [
 {"layer": [
  {"transform": [{"fold": ["t", "b1", "b2", "bt"], "as": ["edge", "v"]}],
   "mark": {"type": "line", "stroke": "#a9a9a9", "strokeWidth": 1.5, "strokeDash": [6, 2]},
   "encoding": {
    "x": {"field": "period", "type": "nominal", "scale": {"type": "band", "domain": ["p1","p2","p3","p4","p5","p6","p7"], "paddingInner": 0, "paddingOuter": 0},
      "axis": {"orient": "bottom", "title": null, "domain": true, "domainColor": "#8c8c8c", "domainWidth": 1.3, "grid": true, "gridColor": "#8c8c8c", "gridWidth": 1.3, "tickBand": "extent", "ticks": true, "tickSize": 53, "tickColor": "#8c8c8c", "tickWidth": 1.3, "labelAngle": 0, "labelPadding": -40, "labelBaseline": "top", "labelFont": "Liberation Sans Narrow, Arial Narrow, DejaVu Sans Condensed, Noto Sans CJK JP, sans-serif", "labelFontSize": 13, "labelFontWeight": "bold", "labelColor": "#000000", "labelLineHeight": 19, "labelOverlap": false, "labelFlush": false, "labelBound": false,
        "labelExpr": "datum.value == 'p7' ? ['10-12月', '（見通し）'] : ['4-6月', '7-9月', '10-12月', '1-3月', '4-6月', '7-9月'][indexof(['p1', 'p2', 'p3', 'p4', 'p5', 'p6'], datum.value)]"}},
    "y": {"field": "v", "type": "quantitative", "scale": {"domain": [-90.8, 149.0], "nice": false, "zero": false}},
    "detail": {"field": "edge", "type": "nominal"}}},
  {"mark": {"type": "bar", "fill": "#a1283b", "width": {"band": 0.41}}, "encoding": {"x": {"field": "period", "type": "nominal"}, "y": {"field": "bt", "type": "quantitative"}, "y2": {"field": "b2"}}},
  {"mark": {"type": "bar", "fill": "#ef820d", "width": {"band": 0.41}}, "encoding": {"x": {"field": "period", "type": "nominal"}, "y": {"field": "b2", "type": "quantitative"}, "y2": {"field": "b1"}}},
  {"mark": {"type": "bar", "fill": "#1f5a7d", "width": {"band": 0.41}}, "encoding": {"x": {"field": "period", "type": "nominal"}, "y": {"field": "b1", "type": "quantitative"}, "y2": {"field": "t"}}},
  {"mark": {"type": "text", "font": "Liberation Sans Narrow, Arial Narrow, DejaVu Sans Condensed, sans-serif", "fontSize": 15, "color": "#ffffff"}, "encoding": {"x": {"field": "period", "type": "nominal"}, "y": {"field": "mb", "type": "quantitative"}, "text": {"field": "bad", "type": "quantitative", "format": ".1f"}}},
  {"mark": {"type": "text", "font": "Liberation Sans Narrow, Arial Narrow, DejaVu Sans Condensed, sans-serif", "fontSize": 15, "color": "#ffffff"}, "encoding": {"x": {"field": "period", "type": "nominal"}, "y": {"datum": 0}, "text": {"field": "same_lbl"}}},
  {"transform": [{"filter": "datum.good >= 14"}], "mark": {"type": "text", "font": "Liberation Sans Narrow, Arial Narrow, DejaVu Sans Condensed, sans-serif", "fontSize": 15, "color": "#ffffff"}, "encoding": {"x": {"field": "period", "type": "nominal"}, "y": {"field": "mg", "type": "quantitative"}, "text": {"field": "good", "type": "quantitative", "format": ".1f"}}},
  {"transform": [{"filter": "datum.good < 14"}], "mark": {"type": "text", "font": "Liberation Sans Narrow, Arial Narrow, DejaVu Sans Condensed, sans-serif", "fontSize": 15, "fontWeight": "bold", "color": "#000000", "baseline": "bottom", "dy": -5}, "encoding": {"x": {"field": "period", "type": "nominal"}, "y": {"field": "t", "type": "quantitative"}, "text": {"field": "good", "type": "quantitative", "format": ".1f"}}}
 ]},
 {"layer": [
  {"transform": [{"filter": "datum.period != 'p7'"}], "mark": {"type": "line", "stroke": "#55893b", "strokeWidth": 2.5}, "encoding": {"x": {"field": "period", "type": "nominal"}, "y": {"field": "di", "type": "quantitative", "scale": {"domain": [-200, 10], "nice": false, "zero": false}}}},
  {"transform": [{"filter": "datum.period == 'p6' || datum.period == 'p7'"}], "mark": {"type": "line", "stroke": "#55893b", "strokeWidth": 2.5, "strokeDash": [6, 4]}, "encoding": {"x": {"field": "period", "type": "nominal"}, "y": {"field": "di", "type": "quantitative"}}},
  {"mark": {"type": "point", "shape": "diamond", "filled": true, "color": "#55893b", "size": 40, "opacity": 1}, "encoding": {"x": {"field": "period", "type": "nominal"}, "y": {"field": "di", "type": "quantitative"}}},
  {"transform": [{"filter": "datum.period == 'p1' || datum.period == 'p2'"}], "mark": {"type": "text", "font": "Liberation Sans Narrow, Arial Narrow, DejaVu Sans Condensed, sans-serif", "fontSize": 15, "fontWeight": "bold", "color": "#000000", "baseline": "top", "dy": 9}, "encoding": {"x": {"field": "period", "type": "nominal"}, "y": {"field": "di", "type": "quantitative"}, "text": {"field": "di_lbl"}}},
  {"transform": [{"filter": "datum.period == 'p3'"}], "mark": {"type": "text", "font": "Liberation Sans Narrow, Arial Narrow, DejaVu Sans Condensed, sans-serif", "fontSize": 15, "fontWeight": "bold", "color": "#000000", "baseline": "top", "dy": 27}, "encoding": {"x": {"field": "period", "type": "nominal"}, "y": {"field": "di", "type": "quantitative"}, "text": {"field": "di_lbl"}}},
  {"transform": [{"filter": "datum.period == 'p4'"}], "mark": {"type": "text", "font": "Liberation Sans Narrow, Arial Narrow, DejaVu Sans Condensed, sans-serif", "fontSize": 15, "fontWeight": "bold", "color": "#000000", "baseline": "top", "dy": 22}, "encoding": {"x": {"field": "period", "type": "nominal"}, "y": {"field": "di", "type": "quantitative"}, "text": {"field": "di_lbl"}}},
  {"transform": [{"filter": "indexof(['p1','p2','p3','p4'], datum.period) < 0"}], "mark": {"type": "text", "font": "Liberation Sans Narrow, Arial Narrow, DejaVu Sans Condensed, sans-serif", "fontSize": 15, "fontWeight": "bold", "color": "#000000", "baseline": "bottom", "dy": -7, "dx": 3}, "encoding": {"x": {"field": "period", "type": "nominal"}, "y": {"field": "di", "type": "quantitative"}, "text": {"field": "di_lbl"}}},
  {"transform": [{"filter": "datum.period == 'p6'"}], "mark": {"type": "rect", "fill": "transparent", "stroke": "#7f7f7f", "strokeWidth": 4}, "encoding": {"x": {"field": "period", "type": "nominal"}, "y": {"datum": 10}, "y2": {"datum": -230.3}}},
  {"transform": [{"filter": "datum.period == 'p6'"}], "mark": {"type": "rect", "fill": "#ffffff", "stroke": "#77933c", "strokeWidth": 3, "strokeDash": [9, 5], "cornerRadius": 5}, "encoding": {"x": {"field": "period", "type": "nominal"}, "y": {"datum": -59.8}, "y2": {"datum": -77.0}}},
  {"transform": [{"filter": "datum.period == 'p6'"}, {"calculate": "'▲' + format(-datum.prev, '.1f')", "as": "prev_lbl"}], "mark": {"type": "text", "font": "Liberation Sans, Noto Sans CJK JP, sans-serif", "fontSize": 16, "color": "#111111"}, "encoding": {"x": {"field": "period", "type": "nominal"}, "y": {"datum": -69.0}, "text": {"field": "prev_lbl"}}},
  {"transform": [{"filter": "datum.period == 'p1' || datum.period == 'p4'"}], "mark": {"type": "rule", "stroke": "#8c8c8c", "strokeWidth": 1.3}, "encoding": {"x": {"field": "period", "type": "nominal", "bandPosition": 0}, "y": {"datum": -200}, "y2": {"datum": -244.6}}},
  {"transform": [{"filter": "datum.period == 'p7'"}], "mark": {"type": "rule", "stroke": "#8c8c8c", "strokeWidth": 1.3}, "encoding": {"x": {"field": "period", "type": "nominal", "bandPosition": 1}, "y": {"datum": -200}, "y2": {"datum": -244.6}}},
  {"transform": [{"filter": "datum.period == 'p1'"}], "mark": {"type": "text", "font": "Liberation Sans Narrow, Arial Narrow, DejaVu Sans Condensed, Noto Sans CJK JP, sans-serif", "fontSize": 12, "fontWeight": "bold", "color": "#000000"}, "encoding": {"x": {"datum": "p2", "bandPosition": 0.5}, "y": {"datum": -240.5}, "text": {"value": "H31・R1"}}},
  {"transform": [{"filter": "datum.period == 'p1'"}], "mark": {"type": "text", "font": "Liberation Sans Narrow, Arial Narrow, DejaVu Sans Condensed, Noto Sans CJK JP, sans-serif", "fontSize": 12, "fontWeight": "bold", "color": "#000000"}, "encoding": {"x": {"datum": "p6", "bandPosition": 0}, "y": {"datum": -240.5}, "text": {"value": "R2"}}},
  {"transform": [{"filter": "datum.period == 'p1'"}], "mark": {"type": "rect", "fill": "#ffffff", "stroke": "#222222", "strokeWidth": 1.5}, "encoding": {"x": {"datum": "p1", "bandPosition": 0.014}, "x2": {"datum": "p3", "bandPosition": 0.026}, "y": {"datum": 24.3}, "y2": {"datum": 0.84}}},
  {"transform": [{"filter": "datum.period == 'p1'"}], "mark": {"type": "text", "font": "Noto Sans CJK JP", "fontSize": 22, "fontWeight": 300, "color": "#333333"}, "encoding": {"x": {"datum": "p2", "bandPosition": 0.02}, "y": {"datum": 12.9}, "text": {"value": "サービス業"}}}
 ]}
]
}
]}
]
}
